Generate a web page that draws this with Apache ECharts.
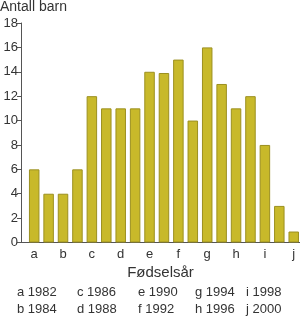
<!DOCTYPE html>
<html>
<head>
<meta charset="utf-8">
<script src="https://cdn.jsdelivr.net/npm/echarts@6/dist/echarts.min.js"></script>
<style>
html,body{margin:0;padding:0;background:#fff;}
#chart{width:300px;height:317px;}
</style>
</head>
<body>
<div id="chart"></div>
<script>
var years = [1982,1983,1984,1985,1986,1987,1988,1989,1990,1991,1992,1993,1994,1995,1996,1997,1998,1999,2000];
var barn = [6,4,4,6,12,11,11,11,14,13.9,15,10,16,13,11,12,8,3,0.9];
var letters = ['a','b','c','d','e','f','g','h','i','j'];
var labelYears = [1982,1984,1986,1988,1990,1992,1994,1996,1998,2000];

var font = '"Liberation Sans", Arial, sans-serif';
var txt = '#333';

var data = [];
for(var i = 0; i < years.length; i++){
	data.push([years[i], barn[i]]);
}

//forklaring under diagrammet
var legendItems = [];
var colX = [17, 77, 138, 195, 246];
for(var i = 0; i < letters.length; i++){
	legendItems.push({
		type : 'text',
		left : colX[Math.floor(i / 2)],
		top : i % 2 == 0 ? 286 : 303,
		style : {
			text : letters[i] + ' ' + labelYears[i],
			font : '13px ' + font,
			fill : txt
		}
	});
}

var chart = echarts.init(document.getElementById('chart'));
chart.setOption({
	animation : false,
	grid : {
		left : 21,
		right : 0,
		top : 23,
		bottom : 74.5
	},
	graphic : [{
		type : 'text',
		left : 0,
		top : 0,
		style : {
			text : 'Antall barn',
			font : '14px ' + font,
			fill : txt
		}
	}].concat(legendItems),
	xAxis : {
		type : 'value',
		min : 1981.085,
		max : 2000.435,
		name : 'Fødselsår',
		nameLocation : 'middle',
		nameGap : 21,
		nameTextStyle : {
			fontFamily : font,
			fontSize : 15,
			color : txt
		},
		axisLine : {
			show : true,
			lineStyle : { color : '#555', width : 1 }
		},
		axisTick : { show : false },
		splitLine : { show : false },
		axisLabel : {
			customValues : labelYears,
			margin : 5,
			fontFamily : font,
			fontSize : 13,
			color : txt,
			formatter : function(v){
				var k = labelYears.indexOf(Math.round(v));
				return k >= 0 ? letters[k] : '';
			}
		}
	},
	yAxis : {
		type : 'value',
		min : 0,
		max : 18,
		interval : 2,
		axisLine : {
			show : true,
			lineStyle : { color : '#555', width : 1 }
		},
		axisTick : {
			show : true,
			length : 4,
			lineStyle : { color : '#555' }
		},
		splitLine : { show : false },
		axisLabel : {
			margin : 3,
			fontFamily : font,
			fontSize : 13,
			color : txt
		}
	},
	series : [{
		type : 'bar',
		data : data,
		barWidth : 10.5,
		itemStyle : {
			color : '#c8b92a',
			borderColor : '#9c9020',
			borderWidth : 1
		}
	}]
});
</script>
</body>
</html>
